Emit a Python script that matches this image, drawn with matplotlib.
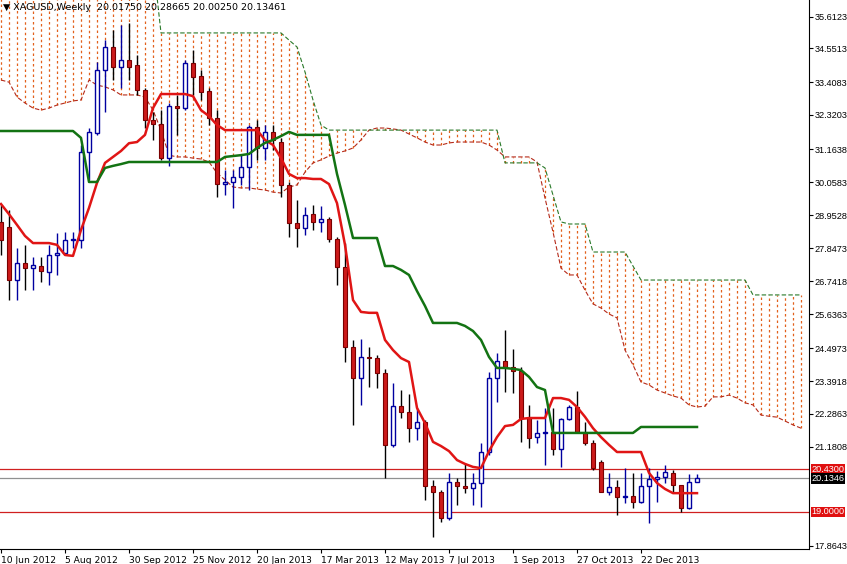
import matplotlib
matplotlib.use("Agg")
import matplotlib.pyplot as plt
import numpy as np

opens = [28.73,28.56,26.78,27.35,27.18,27.25,27.05,27.62,27.69,28.12,
         28.12,31.08,31.71,33.83,34.60,33.93,34.16,33.99,33.16,32.15,
         32.01,30.87,32.62,32.55,34.06,33.63,33.12,32.21,30.00,30.07,
         30.24,30.57,31.91,31.21,31.75,31.41,29.97,28.69,28.53,29.00,
         28.73,28.83,28.16,27.22,24.53,23.49,24.20,24.16,23.66,21.25,
         22.55,22.35,21.81,22.02,19.87,19.67,18.80,20.00,19.87,19.80,
         19.97,21.01,23.49,24.06,23.86,23.73,22.15,21.51,21.65,21.68,
         21.11,22.12,22.52,21.65,21.31,20.67,19.67,19.84,19.50,19.54,
         19.33,19.87,20.10,20.17,20.31,19.90,19.13,20.0175]
highs = [29.30,29.13,27.85,27.96,27.55,27.55,27.96,28.36,28.39,28.39,
         31.31,31.88,34.10,34.83,35.17,35.34,35.40,34.33,33.22,32.42,
         32.48,32.72,32.99,34.16,34.50,33.83,33.22,32.48,30.47,30.47,
         30.97,31.98,32.15,31.98,31.98,31.55,30.07,29.47,29.23,29.30,
         29.26,28.90,28.22,28.02,24.77,24.80,24.53,24.27,23.80,23.32,
         23.09,22.96,22.49,22.08,20.07,19.74,20.31,20.14,20.64,20.31,
         21.31,23.69,24.33,25.10,24.47,23.86,22.59,22.08,22.49,22.49,
         22.15,22.59,23.06,22.02,21.41,20.74,20.31,20.07,20.47,20.31,
         20.31,20.47,20.37,20.57,20.41,19.90,20.27,20.28665]
lows = [27.62,26.11,26.11,26.44,26.44,26.71,26.61,26.95,27.62,27.85,
        27.85,30.14,31.65,32.42,33.49,33.22,33.49,32.99,31.88,31.48,
        30.81,30.61,31.65,32.48,32.99,32.82,31.98,29.56,29.63,29.20,
        29.97,29.80,30.81,30.81,31.14,29.56,28.22,27.89,28.29,28.46,
        28.39,28.06,26.61,24.03,21.92,22.59,23.19,23.16,20.14,21.18,
        22.15,21.35,21.41,19.40,18.16,18.66,18.73,19.23,19.63,19.23,
        19.16,20.91,22.69,23.02,22.99,21.35,21.14,21.31,20.57,20.91,
        20.51,22.08,21.65,21.25,20.41,19.67,19.57,18.90,19.30,19.13,
        19.30,18.63,19.33,19.97,19.63,19.00,19.10,20.0025]
closes = [28.12,26.78,27.35,27.18,27.28,27.08,27.62,27.69,28.12,28.14,
          31.08,31.75,33.83,34.60,33.93,34.16,33.93,33.16,32.15,32.01,
          30.87,32.62,32.55,34.06,33.59,33.09,32.21,30.00,30.07,30.24,
          30.57,31.91,31.21,31.75,31.48,29.97,28.69,28.53,28.96,28.73,
          28.83,28.16,27.22,24.53,23.49,24.20,24.16,23.66,21.25,22.55,
          22.35,21.81,22.02,19.87,19.67,18.80,20.00,19.87,19.80,19.97,
          21.01,23.49,24.06,23.86,23.73,22.15,21.48,21.65,21.68,21.11,
          22.12,22.52,21.68,21.31,20.47,19.67,19.84,19.50,19.54,19.33,
          19.87,20.10,20.17,20.34,19.90,19.13,20.00,20.1346]

tenkan = [29.33,28.99,28.63,28.26,28.02,28.02,28.02,27.96,27.62,27.59,
          28.46,29.20,30.04,30.71,30.91,31.11,31.37,31.41,31.65,32.55,
          33.02,33.02,33.02,33.02,32.95,32.48,32.28,31.98,31.81,31.81,
          31.81,31.81,31.81,31.48,31.31,30.87,30.34,30.20,30.20,30.17,
          30.17,30.00,29.36,27.96,26.11,25.71,25.68,25.68,24.77,24.43,
          24.16,24.03,22.49,21.98,21.35,21.21,21.04,20.74,20.61,20.51,
          20.47,21.04,21.51,21.88,21.92,22.12,22.15,22.15,22.15,22.82,
          22.82,22.76,22.52,22.19,21.81,21.51,21.25,21.01,21.01,21.01,
          21.01,20.31,19.97,19.77,19.63,19.63,19.63,19.63]
kijun = [31.78]*10 + [31.55,30.07,30.07,30.54,30.61,30.67] + [30.74]*12 + \
        [30.91,30.94,30.97,31.01,31.21,31.38,31.48,31.61,31.75] + [31.65]*5 + \
        [30.34,29.30] + [28.19]*4 + [27.25,27.25,27.12,26.95,26.41,25.91] + \
        [25.34]*4 + [25.24,25.07,24.77,24.20,23.83,23.83,23.80,23.76,23.53,23.19,23.09] + \
        [21.65]*11 + [21.85]*8
span_a = [33.49,33.42,32.92,32.72,32.55,32.48,32.55,32.65,32.72,32.79,
          32.82,33.49,33.32,33.26,33.16,32.99,32.99,32.99,32.92,32.48,
          31.81,30.97,30.91,30.91,30.87,30.84,30.74,30.37,30.14,29.90,
          29.87,29.87,29.83,29.80,29.73,29.70,29.90,29.97,30.40,30.71,
          30.81,30.94,31.04,31.11,31.21,31.48,31.81,31.88,31.88,31.85,
          31.81,31.68,31.55,31.41,31.31,31.31,31.38,31.41,31.41,31.41,
          31.41,31.31,31.14,30.91,30.91,30.91,30.91,30.74,29.53,28.39,
          27.18,26.95,26.95,26.44,25.98,25.84,25.64,25.51,24.43,23.93,
          23.36,23.26,23.09,22.99,22.89,22.82,22.59,22.52,22.55,22.86,
          22.86,22.92,22.82,22.66,22.59,22.25,22.21,22.18,22.05,21.92,21.81]
span_b = [37.5]*20 + [35.07]*16 + [34.83,34.60,33.76,32.82,31.98] + [31.81]*22 + \
         [30.71]*5 + [30.54,29.63,28.73] + [28.66]*3 + [27.72]*5 + [27.25] + \
         [26.78]*14 + [26.28]*7

level_hi = 20.43
level_lo = 19.00
bid = 20.1346
ytick_vals = [35.6123,34.5513,33.4083,32.3203,31.1638,30.0583,28.9528,27.8473,
              26.7418,25.6363,24.4973,23.3918,22.2863,21.1808,17.8643]
xtick_labels = ["10 Jun 2012","5 Aug 2012","30 Sep 2012","25 Nov 2012","20 Jan 2013",
                "17 Mar 2013","12 May 2013","7 Jul 2013","1 Sep 2013","27 Oct 2013","22 Dec 2013"]

FONT = ['Liberation Sans', 'DejaVu Sans']
FS = 6.6

fig = plt.figure(figsize=(8.47,5.64), dpi=100)
ax = fig.add_axes([0.0, 15/564, 809/847, 549/564])
ax.set_xlim(-0.125, 101.0)
ax.set_ylim(17.756, 36.175)

# cloud hatch
for i,(a,b) in enumerate(zip(span_a, span_b)):
    ax.vlines(i, min(a,b), max(a,b), colors='#e2601c', linewidth=0.9,
              linestyles=(0,(2.0,2.2)), zorder=1)
xs = np.arange(len(span_a))
ax.plot(xs, span_a, color='#b52a1a', lw=0.8, ls=(0,(4,2)), zorder=2)
ax.plot(xs, span_b, color='#2a7a2a', lw=0.8, ls=(0,(4,2)), zorder=2)

# horizontal lines
ax.axhline(level_hi, color='#d02020', lw=0.9, zorder=2)
ax.axhline(level_lo, color='#d02020', lw=0.9, zorder=2)
ax.axhline(bid, color='#909090', lw=0.9, zorder=2)

# candles
n = len(opens)
idx = np.arange(n)
for i in idx:
    o,h,l,c = opens[i],highs[i],lows[i],closes[i]
    if c >= o:
        ax.vlines(i, l, h, colors='#0000a0', lw=1, zorder=3)
        ax.bar(i, max(c-o,0.04), bottom=o, width=0.6, facecolor='white', edgecolor='#0000a0', lw=1, zorder=4)
    else:
        ax.vlines(i, l, h, colors='black', lw=1, zorder=3)
        ax.bar(i, o-c, bottom=c, width=0.6, facecolor='#cc1a1a', edgecolor='#7a0000', lw=0.8, zorder=4)

ax.plot(idx, tenkan, color='#e01515', lw=1.8, zorder=5)
ax.plot(idx, kijun, color='#137313', lw=1.8, zorder=5)

# axes styling
for s in ['top','left']:
    ax.spines[s].set_visible(False)
ax.yaxis.tick_right()
ax.set_yticks(ytick_vals)
ax.set_yticklabels([f"{v:.4f}" for v in ytick_vals], fontsize=FS, family=FONT)
ax.tick_params(axis='y', length=3, pad=1)
ax.set_xticks(np.arange(0, 88, 8))
ax.set_xticklabels(xtick_labels, fontsize=6.6, ha='left', family=['DejaVu Sans'])
ax.tick_params(axis='x', length=3, pad=2)

for val, bg in [(level_hi,'#e01010'),(bid,'black'),(level_lo,'#e01010')]:
    ax.text(1.003, val, f"{val:.4f}", transform=ax.get_yaxis_transform(), fontsize=FS,
            family=FONT, color='white', va='center', ha='left',
            bbox=dict(boxstyle='square,pad=0.1', facecolor=bg, edgecolor='none'), zorder=10, clip_on=False)

fig.text(3/847, 1-7/564, "\u25BC XAGUSD,Weekly  20.01750 20.28665 20.00250 20.13461",
         fontsize=6.8, va='center', ha='left', color='black', family=['DejaVu Sans'])

fig.savefig("out.png", dpi=100)
